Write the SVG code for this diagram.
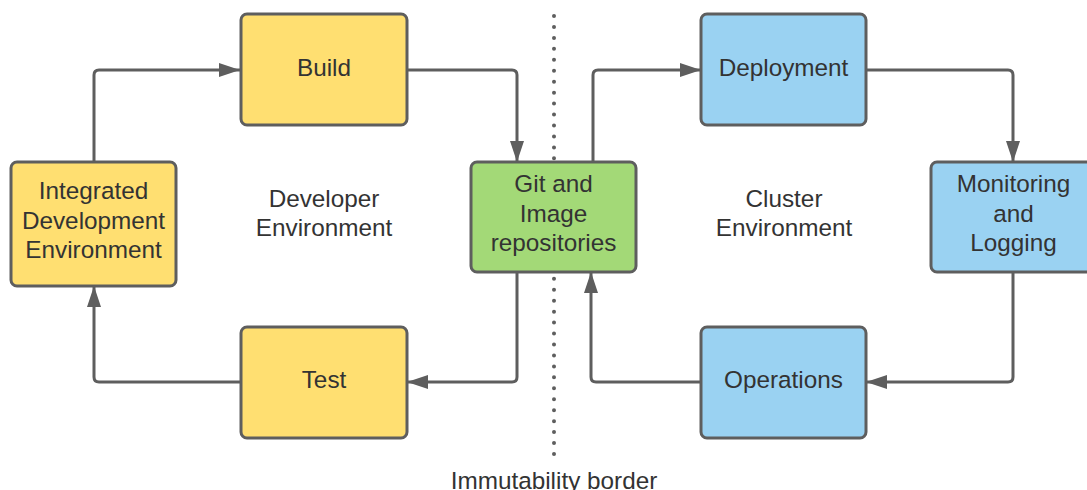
<svg xmlns="http://www.w3.org/2000/svg" width="1087" height="490" viewBox="0 0 1087 490">
<style>
.box{stroke:#5e5e5e;stroke-width:3}
.y{fill:#ffdf71}.g{fill:#a3d977}.b{fill:#9ad2f2}
text{font-family:"Liberation Sans",Arial,sans-serif;font-size:24.3px;fill:#333333;text-anchor:middle}
.c{fill:none;stroke:#5e5e5e;stroke-width:3;stroke-linejoin:round}
</style>
<defs>
<marker id="ah" markerUnits="userSpaceOnUse" markerWidth="22" markerHeight="14" refX="21" refY="7" orient="auto">
<path d="M0,0 L21,7 L0,14 Z" fill="#5e5e5e"/>
</marker>
</defs>
<rect width="1087" height="490" fill="#ffffff"/>
<g id="border">
<line x1="554" y1="16" x2="554" y2="455" stroke="#5e5e5e" stroke-width="4" stroke-linecap="round" stroke-dasharray="0 10.95"/>
<text x="554" y="489">Immutability border</text>
</g>
<g id="labels">
<text x="324" y="207">Developer</text>
<text x="324" y="236">Environment</text>
<text x="784" y="207">Cluster</text>
<text x="784" y="236">Environment</text>
</g>
<g id="connectors">
<path class="c" d="M94,162 V75 Q94,70 99,70 H240" marker-end="url(#ah)"/>
<path class="c" d="M407,70 H512 Q517,70 517,75 V162" marker-end="url(#ah)"/>
<path class="c" d="M593,162 V75 Q593,70 598,70 H701" marker-end="url(#ah)"/>
<path class="c" d="M866,70 H1008 Q1013,70 1013,75 V162" marker-end="url(#ah)"/>
<path class="c" d="M1013,272 V377 Q1013,382 1008,382 H866" marker-end="url(#ah)"/>
<path class="c" d="M701,382 H596 Q591,382 591,377 V272" marker-end="url(#ah)"/>
<path class="c" d="M517,272 V377 Q517,382 512,382 H407" marker-end="url(#ah)"/>
<path class="c" d="M241,382 H99 Q94,382 94,377 V286" marker-end="url(#ah)"/>
</g>
<g id="ide">
<rect class="box y" x="11" y="162" width="165" height="124" rx="6"/>
<text x="93.5" y="199">Integrated</text>
<text x="93.5" y="228.5">Development</text>
<text x="93.5" y="258">Environment</text>
</g>
<g id="build">
<rect class="box y" x="241" y="14" width="166" height="111" rx="6"/>
<text x="324" y="76">Build</text>
</g>
<g id="git">
<rect class="box g" x="471" y="162" width="165" height="110" rx="6"/>
<text x="553.5" y="192">Git and</text>
<text x="553.5" y="222">Image</text>
<text x="553.5" y="251">repositories</text>
</g>
<g id="deployment">
<rect class="box b" x="701" y="14" width="165" height="111" rx="6"/>
<text x="783.5" y="76">Deployment</text>
</g>
<g id="monitoring">
<rect class="box b" x="931" y="162" width="165" height="110" rx="6"/>
<text x="1013.5" y="192">Monitoring</text>
<text x="1013.5" y="222">and</text>
<text x="1013.5" y="251">Logging</text>
</g>
<g id="operations">
<rect class="box b" x="701" y="327" width="165" height="111" rx="6"/>
<text x="783.5" y="388">Operations</text>
</g>
<g id="test">
<rect class="box y" x="241" y="327" width="166" height="111" rx="6"/>
<text x="324" y="388">Test</text>
</g>
</svg>
